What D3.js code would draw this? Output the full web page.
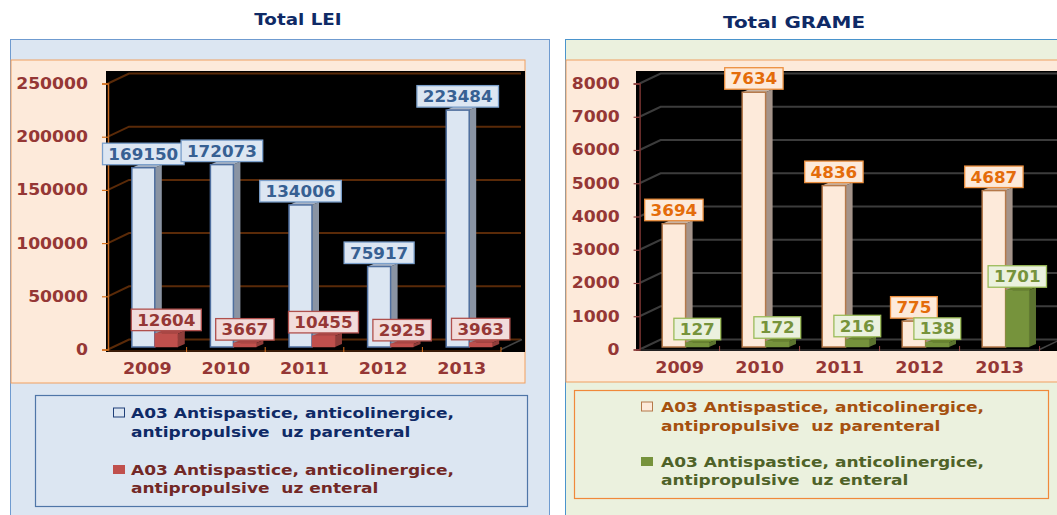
<!DOCTYPE html>
<html><head><meta charset="utf-8">
<script src="https://cdn.jsdelivr.net/npm/d3@7"></script>
<style>html,body{margin:0;padding:0;background:#fff;overflow:hidden}svg{display:block}text{font-family:"DejaVu Sans",sans-serif;font-weight:bold;white-space:pre}</style>
</head><body><svg id="c" width="1057" height="515"></svg>
<script>
const years = ["2009","2010","2011","2012","2013"];
const leiParenteral = [169150,172073,134006,75917,223484];
const leiEnteral = [12604,3667,10455,2925,3963];
const gramParenteral = [3694,7634,4836,775,4687];
const gramEnteral = [127,172,216,138,1701];
const leiTicks = [0,50000,100000,150000,200000,250000];
const gramTicks = [0,1000,2000,3000,4000,5000,6000,7000,8000];
const legendLine1 = "A03 Antispastice, anticolinergice,";
const legendPar = "antipropulsive  uz parenteral";
const legendEnt = "antipropulsive  uz enteral";

const svg = d3.select("#c");

// The reference type is horizontally stretched: widen each text to match.
function stretch(sel,k){
  sel.each(function(){
    const w=this.getComputedTextLength();
    this.setAttribute("textLength",w*k);
    this.setAttribute("lengthAdjust","spacingAndGlyphs");
  });
}

function chart(o){
  const g = svg.append("g");
  g.append("text").attr("x",o.titleX).attr("y",o.titleY).attr("text-anchor","middle")
    .attr("font-size",15).attr("fill","#0f2a66").text(o.title).call(stretch,o.titleK);
  g.append("rect").attr("x",o.px+.5).attr("y",39.5).attr("width",o.pw).attr("height",480)
    .attr("fill",o.panel).attr("stroke",o.panelStroke);
  g.append("rect").attr("x",o.px+1).attr("y",60).attr("width",o.peachW).attr("height",o.peachB-60)
    .attr("fill","#fdeada").attr("stroke","#f0a060");
  g.append("rect").attr("x",o.bx).attr("y",71).attr("width",o.bw).attr("height",o.bb-71).attr("fill","#000");

  const depthX = 21, depthY = -10;
  const yAxisScale = d3.scaleLinear().domain(o.dom).range([349.5,83.5]);
  const yBar = d3.scaleLinear().domain(o.dom).range([347,o.barTop]);
  const x = d3.scaleBand().domain(years).range([o.ax,o.ax+o.step*5]);
  const x1 = d3.scaleBand().domain(["p","e"]).range([o.shift,o.step+o.shift]).paddingInner(0).paddingOuter(.71);

  // gridlines on back wall + depth lines
  const grid = g.append("g");
  grid.selectAll("path").data(o.ticks).join("path")
    .attr("d",t=>{const y=yAxisScale(t);return d3.line()([[o.ax,y],[o.ax+depthX,y+depthY],[o.gridEnd,y+depthY]]);})
    .attr("fill","none").attr("stroke",o.gridColor).attr("stroke-width",2);
  // floor diagonal
  const fx=o.ax+o.step*5, fy=yAxisScale(0);
  g.append("path").attr("d",d3.line()([[fx,fy],[fx+depthX,fy+depthY]])).attr("stroke","#444").attr("stroke-width",1.5).attr("fill","none");
  g.append("line").attr("x1",o.ax).attr("x2",fx).attr("y1",o.bb-1).attr("y2",o.bb-1).attr("stroke",o.baseColor).attr("stroke-width",2);

  // axes
  const ay = g.append("g").attr("transform",`translate(${o.ax},0)`)
    .call(d3.axisLeft(yAxisScale).tickValues(o.ticks).tickFormat(d3.format("d")).tickSize(6).tickPadding(o.tickPad));
  ay.select(".domain").attr("stroke",o.axisColor).attr("stroke-width",1.5);
  ay.selectAll("line").attr("stroke",o.tickColor).attr("stroke-width",1.2);
  ay.selectAll("text").attr("fill","#953735").attr("font-size",o.axisFont).attr("font-family",'"DejaVu Sans"').attr("font-weight","bold").call(stretch,1.11);
  const ax = g.append("g").attr("transform",`translate(0,${o.bb})`)
    .call(d3.axisBottom(x).tickSize(0).tickPadding(11));
  ax.select(".domain").remove();
  ax.selectAll("text").attr("fill","#953735").attr("font-size",15).attr("font-family",'"DejaVu Sans"').attr("font-weight","bold").call(stretch,1.17);
  g.append("g").selectAll("line").data(d3.range(1,6)).join("line")
    .attr("x1",i=>o.ax+i*o.step).attr("x2",i=>o.ax+i*o.step).attr("y1",o.bb-5).attr("y2",o.bb)
    .attr("stroke",o.tickColor);

  // bars
  const rows = [];
  years.forEach((yr,i)=>{
    rows.push({yr,key:"p",v:o.par[i],s:o.sP});
    rows.push({yr,key:"e",v:o.ent[i],s:o.sE});
  });
  const bw = x1.bandwidth(), sd = 7, st = 3;
  const bar = g.append("g").selectAll("g").data(rows).join("g")
    .attr("transform",d=>`translate(${x(d.yr)+x1(d.key)},${yBar(d.v)})`);
  bar.append("path").attr("d",d=>{const h=347-yBar(d.v);const s=Math.min(st,h);
      return d3.line()([[bw,0],[bw+sd,-s],[bw+sd,h-s],[bw,h]])+"Z";})
    .attr("fill",d=>d.s.side);
  bar.append("path").attr("d",d=>d3.line()([[0,0],[sd,-st],[bw+sd,-st],[bw,0]])+"Z").attr("fill",d=>d.s.top);
  bar.append("rect").attr("width",bw).attr("height",d=>347-yBar(d.v))
    .attr("fill",d=>d.s.face).attr("stroke",d=>d.s.stroke).attr("stroke-width",d=>d.s.sw);

  // labels
  const lab = g.append("g").selectAll("g").data(rows).join("g")
    .attr("transform",d=>`translate(${x(d.yr)+x1(d.key)+bw/2},${yBar(d.v)-3})`);
  const wOf = n=>String(n).length*11.6+12;
  lab.append("rect").attr("x",d=>-wOf(d.v)/2).attr("y",-21.5).attr("width",d=>wOf(d.v)).attr("height",21.5)
    .attr("fill",d=>d.s.lf).attr("stroke",d=>d.s.ls).attr("stroke-width",1.3);
  lab.append("text").attr("text-anchor","middle").attr("y",-5).attr("font-size",15.5)
    .attr("fill",d=>d.s.lt).text(d=>d.v).call(stretch,1.08);

  // legend
  const L = o.leg;
  g.append("rect").attr("x",L.x+.5).attr("y",L.y+.5).attr("width",L.w).attr("height",L.h)
    .attr("fill",o.panel).attr("stroke",L.stroke).attr("stroke-width",1.2);
  const lines=[[legendLine1,L.c1,L.l[0]],[legendPar,L.c1,L.l[1]],[legendLine1,L.c2,L.l[2]],[legendEnt,L.c2,L.l[3]]];
  g.append("g").selectAll("text").data(lines).join("text")
    .attr("x",L.tx).attr("y",d=>d[2]+5).attr("font-size",14.3).attr("fill",d=>d[1]).text(d=>d[0]).call(stretch,1.19);
  g.append("rect").attr("x",L.mx+.5).attr("y",L.l[0]-5).attr("width",11).attr("height",9).attr("fill",o.sP.face).attr("stroke",L.ms);
  g.append("rect").attr("x",L.mx).attr("y",L.l[2]-5).attr("width",12).attr("height",9).attr("fill",o.sE.face);
}

chart({title:"Total LEI",titleK:1.22,titleX:298,titleY:25,px:10,pw:539,peachW:514,peachB:383,panel:"#dce6f2",panelStroke:"#6f9bd0",
  bx:106,bw:419,bb:352,ax:108,step:78.6,shift:7.5,gridEnd:521,dom:[0,250000],barTop:82,ticks:leiTicks,tickPad:14,axisFont:15.5,
  gridColor:"#5a2a08",axisColor:"#c8691e",tickColor:"#d9731f",baseColor:"#3a1c08",par:leiParenteral,ent:leiEnteral,
  sP:{face:"#dce6f2",side:"#8a94a3",top:"#a9b4c4",stroke:"#4f6f9f",sw:1.5,lf:"#dce6f2",ls:"#7ba0cc",lt:"#376092"},
  sE:{face:"#c0504d",side:"#8f3d3a",top:"#a84644",stroke:"#c0504d",sw:.5,lf:"#f2dcdb",ls:"#b0504d",lt:"#953735"},
  leg:{x:35,y:395,w:492,h:111,stroke:"#4f76a8",c1:"#0f2a66",c2:"#722826",tx:131,l:[413,432,470,488],mx:113,ms:"#1f3f78"}});

chart({title:"Total GRAME",titleK:1.33,titleX:794,titleY:28,px:565,pw:520,peachW:520,peachB:382,panel:"#ebf1de",panelStroke:"#4a94cc",
  bx:636,bw:430,bb:351,ax:639.6,step:80,shift:6,gridEnd:1070,dom:[0,8000],barTop:80,ticks:gramTicks,tickPad:14,axisFont:15.5,
  gridColor:"#3c3c3c",axisColor:"#7a3432",tickColor:"#9a4442",baseColor:"#222",par:gramParenteral,ent:gramEnteral,
  sP:{face:"#fdeada",side:"#a5948a",top:"#c9b5a5",stroke:"#b5794a",sw:1.5,lf:"#fdeada",ls:"#ec8f3e",lt:"#e46c0a"},
  sE:{face:"#76933c",side:"#5c7330",top:"#68832f",stroke:"#76933c",sw:.5,lf:"#ebf1de",ls:"#9bbb59",lt:"#76933c"},
  leg:{x:574,y:390,w:474,h:108,stroke:"#f0893a",c1:"#a5500f",c2:"#4f6228",tx:661,l:[407,426,462,480],mx:641,ms:"#b5794a"}});
</script></body></html>
